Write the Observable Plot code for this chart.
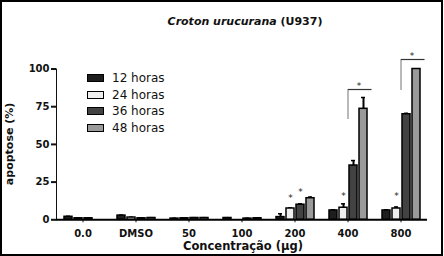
<!DOCTYPE html>
<html>
<head>
<meta charset="utf-8">
<script src="https://cdn.jsdelivr.net/npm/d3@7"></script>
<script src="https://cdn.jsdelivr.net/npm/@observablehq/plot@0.6"></script>
<style>
  html, body { margin: 0; padding: 0; background: #fff; }
  #wrap { position: relative; width: 444px; height: 256px; overflow: hidden; background: #fff; font-family: "DejaVu Sans", sans-serif; }
  #frame { position: absolute; left: 0; top: 0; width: 443px; height: 256px; box-sizing: border-box; border: 2px solid #000; pointer-events: none; }
  #title { position: absolute; left: 0; width: 490px; top: 14.5px; text-align: center; font-size: 11px; font-weight: bold; color: #111; white-space: nowrap; }
  #legend { position: absolute; left: 87px; top: 69.7px; }
  .row { height: 16.7px; display: flex; align-items: center; }
  .sw { width: 17px; height: 8px; box-sizing: border-box; border: 1.5px solid #000; margin-right: 8px; }
  .lab { font-size: 12px; color: #111; }
  #chart svg g[aria-label^="y-axis tick label"] text { font-weight: bold; font-size: 10px; }
  #chart svg g[aria-label^="fx-axis tick label"] text { font-weight: bold; font-size: 10px; }
  #chart svg g[aria-label^="y-axis"] { stroke-width: 2; }
</style>
</head>
<body>
<div id="wrap">
  <div id="chart"></div>
  <div id="title"><i>Croton urucurana</i> (U937)</div>
  <div id="legend"></div>
  <div id="frame"></div>
</div>
<script>
// ---- data ----
const concentrations = ["0.0", "DMSO", "50", "100", "200", "400", "800"];
const series = ["12 horas", "24 horas", "36 horas", "48 horas"];
const colors = ["#1e1e1e", "#efefef", "#424242", "#9a9a9a"];

const h12 = [2.0, 2.8, 0.8, 1.2, 1.8, 6.2, 6.2];
const h24 = [1.0, 1.5, 1.0, 0.0, 7.5, 8.0, 7.5];
const h36 = [1.0, 1.0, 1.2, 0.8, 10.0, 36.0, 70.0];
const h48 = [0.0, 1.2, 1.2, 1.0, 14.3, 73.6, 100.0];

const e12 = [0.3, 0.3, 0.2, 0.2, 2.2, 0.4, 0.4];
const e24 = [0.2, 0.2, 0.2, 0.0, 0.4, 2.6, 1.0];
const e36 = [0.2, 0.2, 0.2, 0.2, 0.6, 3.3, 0.6];
const e48 = [0.0, 0.2, 0.2, 0.2, 0.8, 7.5, 0.0];

const yTicks = [0, 25, 50, 75, 100];

// significance stars over single bars
const starConc = ["200", "200", "400", "800"];
const starSeries = ["24 horas", "36 horas", "24 horas", "24 horas"];
const starY = [16, 19.5, 17, 17];

// brackets
const bracketConc = ["400", "800"];
const bracketLow = [66.5, 85.7];
const bracketHigh = [86.4, 106.3];
const bracketStarY = [89.7, 110];

// ---- tables ----
const values = [h12, h24, h36, h48];
const errs = [e12, e24, e36, e48];
const rows = concentrations.flatMap((c, i) =>
  series.map((s, j) => ({conc: c, series: s, value: values[j][i], top: values[j][i] + errs[j][i]})));
const stars = starConc.map((c, i) => ({conc: c, series: starSeries[i], y: starY[i]}));
const brackets = bracketConc.map((c, i) => ({conc: c, from: "36 horas", to: "48 horas", low: bracketLow[i], high: bracketHigh[i], star: bracketStarY[i]}));

const plot = Plot.plot({
  width: 444,
  height: 256,
  marginLeft: 53,
  marginRight: 15,
  marginTop: 68.5,
  marginBottom: 36.7,
  style: {fontFamily: "DejaVu Sans", background: "transparent", overflow: "visible", color: "#111"},
  fx: {domain: concentrations, padding: 0, label: null, tickSize: 3, tickPadding: 7},
  x: {domain: series, paddingInner: 0.2, paddingOuter: 0.54, axis: null},
  y: {domain: [0, 100], ticks: yTicks, tickSize: 5, tickPadding: 2, label: null, line: true},
  color: {domain: series, range: colors},
  marks: [
    Plot.ruleX(brackets, {fx: "conc", x: "from", y1: "low", y2: "high", dx: -5.5, stroke: "#8a8a8a", strokeWidth: 1.2}),
    Plot.ruleY(brackets, {fx: "conc", x1: "from", x2: "to", y: "high", insetLeft: -1, insetRight: -4.5, stroke: "#333", strokeWidth: 1.2}),
    Plot.text(brackets, {fx: "conc", x: "to", y: "star", text: () => "*", dx: -4.5, dy: 2, fontSize: 9, fill: "#222"}),
    Plot.ruleX(rows.filter(d => d.top > d.value), {fx: "conc", x: "series", y1: "value", y2: "top", stroke: "#000", strokeWidth: 2}),
    Plot.tickY(rows.filter(d => d.top > d.value), {fx: "conc", x: "series", y: "top", stroke: "#000", strokeWidth: 1.5, insetLeft: 2, insetRight: 2}),
    Plot.barY(rows, {fx: "conc", x: "series", y: "value", fill: "series", stroke: "#000", strokeWidth: 1.5}),
    Plot.text(stars, {fx: "conc", x: "series", y: "y", text: () => "*", dy: 2, fontSize: 9, fill: "#222"}),
    Plot.ruleY([0], {stroke: "#000", strokeWidth: 2})
  ]
});
document.getElementById("chart").appendChild(plot);

// y-axis title and x-axis title inside the svg
const svg = d3.select(plot);
const yScale = plot.scale("y");
const yMid = (yScale.range[0] + yScale.range[1]) / 2;
svg.append("text")
  .attr("transform", `translate(12.5,${yMid}) rotate(-90)`)
  .attr("text-anchor", "middle")
  .attr("font-size", 11)
  .attr("font-weight", "bold")
  .attr("fill", "#111")
  .text("apoptose (%)");
svg.append("text")
  .attr("x", 243)
  .attr("y", 250)
  .attr("text-anchor", "middle")
  .attr("font-size", 11.5)
  .attr("font-weight", "bold")
  .attr("fill", "#111")
  .text("Concentração (µg)");

// legend from the color scale
const color = plot.scale("color");
const legend = d3.select("#legend");
series.forEach((s) => {
  const r = legend.append("div").attr("class", "row");
  r.append("div").attr("class", "sw").style("background", color.apply(s));
  r.append("div").attr("class", "lab").text(s);
});
</script>
</body>
</html>
